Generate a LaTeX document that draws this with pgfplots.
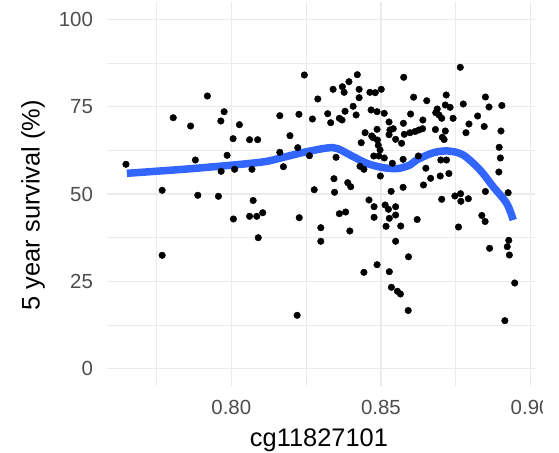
\documentclass[border=0pt]{standalone}
\usepackage{fontspec}
\setmainfont{Liberation Sans}
\usepackage{pgfplots}
\pgfplotsset{compat=1.18}
\definecolor{ggblue}{HTML}{3366FF}
\definecolor{gridc}{HTML}{EBEBEB}
\definecolor{tickc}{HTML}{4D4D4D}
\begin{document}
\begin{tikzpicture}
\begin{axis}[
  scale only axis,
  width=428bp, height=383.9bp,
  xmin=0.7585, xmax=0.9015,
  ymin=-5, ymax=105,
  xtick={0.80,0.85,0.90},
  ytick={0,25,50,75,100},
  minor xtick={0.775,0.825,0.875},
  minor ytick={12.5,37.5,62.5,87.5},
  grid=both,
  major grid style={draw=gridc, line width=1.2bp},
  minor grid style={draw=gridc, line width=0.7bp},
  axis line style={draw=none},
  major tick length=0pt, minor tick length=0pt,
  tick style={draw=none},
  /pgf/number format/assume math mode=true,
  xticklabel style={/pgf/number format/fixed, /pgf/number format/precision=2, /pgf/number format/fixed zerofill, font=\fontsize{20.5}{24}\selectfont, text=tickc, anchor=north, inner sep=0pt, yshift=-14.5bp},
  scaled x ticks=false,
  yticklabel style={font=\fontsize{20.5}{24}\selectfont, text=tickc, anchor=east, inner sep=0pt, xshift=-14bp},
  xlabel={cg11827101},
  ylabel={5 year survival (\%)},
  xlabel style={font=\fontsize{25.5}{30}\selectfont, at={(axis description cs:0.495,0)}, anchor=north, inner sep=0pt, yshift=-43bp},
  ylabel style={font=\fontsize{25.5}{30}\selectfont, at={(axis description cs:-0.1729,0.471)}, anchor=center, inner sep=0pt},
  clip=false,
]
\addplot[only marks, mark=*, mark size=3.3bp, black] table {
x y
0.7648 58.51
0.7769 51.06
0.7769 32.44
0.7806 71.86
0.7864 69.48
0.7880 59.74
0.7888 49.63
0.7920 78.08
0.7957 49.34
0.7965 70.92
0.7966 56.50
0.7976 73.58
0.7986 61.09
0.8006 65.85
0.8007 42.84
0.8011 57.08
0.8027 69.86
0.8061 65.56
0.8061 43.61
0.8069 57.08
0.8073 48.14
0.8085 43.61
0.8088 65.56
0.8090 37.48
0.8105 44.64
0.8162 72.44
0.8162 61.95
0.8174 57.82
0.8196 66.71
0.8222 63.27
0.8226 72.84
0.8227 43.21
0.8220 15.24
0.8244 84.10
0.8261 60.97
0.8271 71.49
0.8277 51.23
0.8289 77.22
0.8299 40.34
0.8299 36.45
0.8322 73.01
0.8332 70.43
0.8340 80.00
0.8343 54.38
0.8345 50.49
0.8350 60.52
0.8361 71.69
0.8370 71.20
0.8361 44.36
0.8382 44.84
0.8371 80.74
0.8377 79.14
0.8380 73.70
0.8389 53.24
0.8399 52.09
0.8393 82.18
0.8396 39.40
0.8407 75.13
0.8417 72.64
0.8421 84.18
0.8427 80.00
0.8427 77.59
0.8434 64.70
0.8430 57.94
0.8443 57.08
0.8443 27.56
0.8447 67.56
0.8460 48.28
0.8463 79.14
0.8467 74.07
0.8469 66.62
0.8474 66.13
0.8476 60.89
0.8477 46.36
0.8477 43.32
0.8481 79.03
0.8487 73.58
0.8487 68.54
0.8487 29.74
0.8488 65.47
0.8491 63.95
0.8493 60.89
0.8497 62.61
0.8498 55.16
0.8501 80.00
0.8511 73.12
0.8511 60.32
0.8514 46.85
0.8517 40.74
0.8525 45.62
0.8527 70.63
0.8527 66.99
0.8528 43.04
0.8528 27.74
0.8530 68.34
0.8534 50.77
0.8535 23.27
0.8538 58.80
0.8541 68.71
0.8549 65.67
0.8549 46.36
0.8549 43.98
0.8549 36.45
0.8555 22.12
0.8565 21.35
0.8566 40.83
0.8569 64.53
0.8574 59.94
0.8574 51.92
0.8575 70.26
0.8576 83.44
0.8578 67.11
0.8592 32.01
0.8591 16.62
0.8597 67.56
0.8599 72.92
0.8609 77.74
0.8614 67.91
0.8621 42.69
0.8625 60.89
0.8627 68.34
0.8639 68.71
0.8640 71.20
0.8642 52.58
0.8650 57.39
0.8653 76.73
0.8666 54.50
0.8682 68.48
0.8683 73.30
0.8688 74.36
0.8694 72.64
0.8698 55.16
0.8700 59.74
0.8703 71.69
0.8703 48.48
0.8705 66.25
0.8711 65.62
0.8715 68.05
0.8715 75.50
0.8718 78.37
0.8719 59.74
0.8727 55.87
0.8731 74.84
0.8741 71.69
0.8747 49.43
0.8759 40.54
0.8765 86.30
0.8766 50.09
0.8767 47.91
0.8775 75.79
0.8784 67.56
0.8792 48.65
0.8794 70.06
0.8823 72.35
0.8837 43.84
0.8845 69.34
0.8849 77.79
0.8849 50.72
0.8848 42.12
0.8861 74.93
0.8863 34.44
0.8895 63.38
0.8894 56.30
0.8899 60.32
0.8901 68.05
0.8904 75.36
0.8914 13.70
0.8922 34.90
0.8925 50.37
0.8927 36.73
0.8929 32.52
0.8947 24.50
};
\addplot[smooth, ggblue, line width=7.5bp, line cap=butt] table {
x y
0.7651 55.93
0.7872 57.30
0.8096 59.08
0.8174 60.52
0.8252 62.12
0.8341 63.27
0.8397 61.17
0.8452 58.80
0.8508 57.54
0.8557 57.31
0.8597 58.31
0.8619 59.74
0.8675 61.83
0.8725 62.32
0.8775 61.17
0.8831 56.88
0.8875 52.09
0.8920 47.34
0.8942 42.55
};
\end{axis}
\fill[white] (435.9bp,-67.05bp) rectangle (452bp,-10bp);
\pgfresetboundingbox
\path[use as bounding box] (-107.1bp,-67.05bp) rectangle ++(559bp,453bp);
\end{tikzpicture}
\end{document}
